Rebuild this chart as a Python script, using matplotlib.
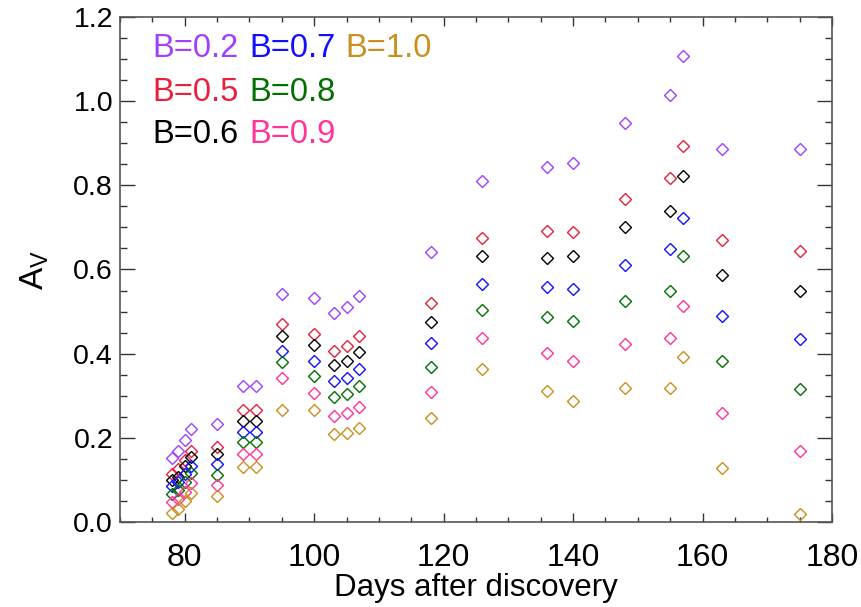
import numpy as np
import matplotlib
matplotlib.use('Agg')
import matplotlib.pyplot as plt
from matplotlib.ticker import MultipleLocator

plt.rcParams['font.family'] = ['Liberation Sans', 'DejaVu Sans']
plt.rcParams['mathtext.fontset'] = 'custom'
plt.rcParams['mathtext.rm'] = 'Liberation Sans'
plt.rcParams['mathtext.it'] = 'Liberation Sans'

# epochs (days after discovery)
days = [78, 79, 80, 81, 85, 89, 91, 95, 100, 103, 105, 107,
        118, 126, 136, 140, 148, 155, 157, 163, 175]

# A_V for each B value
av_b02 = [0.151, 0.169, 0.196, 0.220, 0.234, 0.323, 0.323, 0.542, 0.532, 0.496, 0.512, 0.537,
          0.642, 0.811, 0.844, 0.854, 0.947, 1.015, 1.107, 0.886, 0.886]
av_b05 = [0.113, 0.125, 0.148, 0.169, 0.179, 0.265, 0.265, 0.470, 0.447, 0.406, 0.418, 0.442,
          0.520, 0.676, 0.692, 0.688, 0.767, 0.817, 0.894, 0.670, 0.645]
av_b06 = [0.100, 0.108, 0.133, 0.154, 0.161, 0.240, 0.240, 0.442, 0.421, 0.373, 0.383, 0.405,
          0.475, 0.631, 0.628, 0.632, 0.702, 0.740, 0.822, 0.587, 0.549]
av_b07 = [0.086, 0.095, 0.113, 0.133, 0.137, 0.215, 0.215, 0.407, 0.383, 0.336, 0.343, 0.363,
          0.425, 0.565, 0.559, 0.553, 0.611, 0.648, 0.722, 0.490, 0.434]
av_b08 = [0.066, 0.075, 0.095, 0.116, 0.112, 0.189, 0.189, 0.381, 0.348, 0.298, 0.303, 0.322,
          0.369, 0.504, 0.486, 0.478, 0.525, 0.549, 0.631, 0.383, 0.315]
av_b09 = [0.048, 0.055, 0.072, 0.093, 0.088, 0.162, 0.162, 0.343, 0.306, 0.252, 0.258, 0.273,
          0.310, 0.437, 0.402, 0.383, 0.422, 0.437, 0.514, 0.260, 0.169]
av_b10 = [0.022, 0.030, 0.050, 0.070, 0.062, 0.130, 0.130, 0.266, 0.266, 0.209, 0.212, 0.224,
          0.247, 0.363, 0.312, 0.288, 0.318, 0.318, 0.393, 0.128, 0.018]

series = [('B=0.2', av_b02, '#a040ff'),
          ('B=0.5', av_b05, '#e8203c'),
          ('B=0.6', av_b06, '#000000'),
          ('B=0.7', av_b07, '#1010ff'),
          ('B=0.8', av_b08, '#007000'),
          ('B=0.9', av_b09, '#ff3399'),
          ('B=1.0', av_b10, '#c8901e')]

narrow = ['Liberation Sans Narrow', 'Liberation Sans']

fig = plt.figure(figsize=(8.62, 6.07), dpi=100)
ax = fig.add_axes([120/862, 85/607, 712/862, 505/607])

for name, vals, col in series:
    ax.plot(days, vals, linestyle='none', marker='D', ms=6.3, mfc='none', mec=col, mew=1.0)

ax.set_xlim(70, 180)
ax.set_ylim(0, 1.2)
ax.xaxis.set_major_locator(MultipleLocator(20))
ax.xaxis.set_minor_locator(MultipleLocator(5))
ax.yaxis.set_major_locator(MultipleLocator(0.2))
ax.yaxis.set_minor_locator(MultipleLocator(0.05))
ax.yaxis.set_major_formatter(matplotlib.ticker.FormatStrFormatter('%.1f'))

ax.tick_params(which='both', direction='in', top=True, right=True, colors='#333333')
ax.tick_params(axis='y', which='major', length=10.5, width=1, labelsize=20.5, pad=5, labelcolor='black')
ax.tick_params(axis='y', which='minor', length=5, width=1)
ax.tick_params(axis='x', which='major', length=6.5, width=1, labelsize=23, pad=15, labelcolor='black')
ax.tick_params(axis='x', which='minor', length=3.6, width=1)
for lab in ax.get_xticklabels():
    lab.set_family(narrow)
for sp in ax.spines.values():
    sp.set_color('#555555')
    sp.set_linewidth(1.2)

ax.set_xlabel('Days after discovery', fontsize=22.5, family=narrow, labelpad=0)
ax.set_ylabel(r'$\mathregular{A_V}$', fontsize=24, labelpad=16)

# colored labels in the upper left
legend_pos = {'B=0.2': (0.045, 0.937), 'B=0.7': (0.182, 0.937), 'B=1.0': (0.316, 0.937),
              'B=0.5': (0.045, 0.851), 'B=0.8': (0.182, 0.851),
              'B=0.6': (0.045, 0.768), 'B=0.9': (0.182, 0.768)}
for name, vals, col in series:
    x, y = legend_pos[name]
    ax.text(x, y, name, color=col, fontsize=23.5, transform=ax.transAxes, ha='left', va='center')

fig.savefig('out.png', dpi=100)
